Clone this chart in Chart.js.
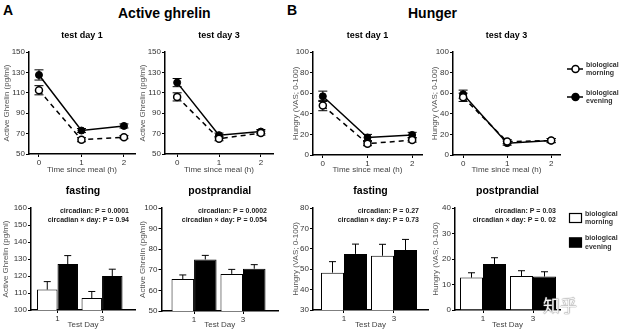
<!DOCTYPE html>
<html>
<head>
<meta charset="utf-8">
<script src="https://cdn.jsdelivr.net/npm/chart.js@4.4.1/dist/chart.umd.min.js"></script>
<style>
  body { margin: 0; width: 620px; height: 332px; background: #fff; position: relative; overflow: hidden;
         font-family: 'Liberation Sans', Arial, sans-serif; }
  canvas { position: absolute; }
  .txt { position: absolute; white-space: nowrap; }
</style>
</head>
<body>

<div class="txt" style="left:3px;top:3px;font:bold 14px/14px 'Liberation Sans',Arial">A</div>
<div class="txt" style="left:118px;top:5.5px;font:bold 14px/14px 'Liberation Sans',Arial">Active ghrelin</div>
<div class="txt" style="left:287px;top:3px;font:bold 14px/14px 'Liberation Sans',Arial">B</div>
<div class="txt" style="left:408px;top:5.5px;font:bold 14px/14px 'Liberation Sans',Arial">Hunger</div>

<script>
'use strict';

Chart.defaults.font.family = "'Liberation Sans', Arial, sans-serif";

const hours = [0, 1, 2];
const testDays = [1, 3];
const seriesNames = ['biological morning', 'biological evening'];

// active ghrelin (pg/ml) after the meal
const ghrelinD1Morning = [112.5, 64, 66.5];
const ghrelinD1MorningErr = [4.5, 2, 1.5];
const ghrelinD1Evening = [127.5, 73, 77.5];
const ghrelinD1EveningErr = [5, 2, 2];
const ghrelinD3Morning = [106, 65, 70.5];
const ghrelinD3MorningErr = [4, 2, 2];
const ghrelinD3Evening = [120, 68.5, 72];
const ghrelinD3EveningErr = [4, 2, 2];

// hunger (VAS 0-100) after the meal
const hungerD1Morning = [48, 11, 14.5];
const hungerD1MorningErr = [5, 2, 2];
const hungerD1Evening = [57, 17, 19.5];
const hungerD1EveningErr = [5, 3, 2.5];
const hungerD3Morning = [56, 13, 14];
const hungerD3MorningErr = [4, 2, 2];
const hungerD3Evening = [59, 11.5, 14];
const hungerD3EveningErr = [4, 2, 2];

// fasting / postprandial bars, per test day
const ghrelinFastMorning = [112, 107];
const ghrelinFastMorningErr = [4.7, 3.9];
const ghrelinFastEvening = [127, 120];
const ghrelinFastEveningErr = [5, 4];
const ghrelinPostMorning = [65.5, 68];
const ghrelinPostMorningErr = [2, 2.2];
const ghrelinPostEvening = [75, 70.5];
const ghrelinPostEveningErr = [2, 2];
const hungerFastMorning = [48.3, 56.6];
const hungerFastMorningErr = [5.4, 5.6];
const hungerFastEvening = [57.5, 59.4];
const hungerFastEveningErr = [4.8, 5.2];
const hungerPostMorning = [12.7, 13.3];
const hungerPostMorningErr = [1.9, 2.1];
const hungerPostEvening = [18, 13.1];
const hungerPostEveningErr = [2.5, 1.9];

// stats text
const notesGhrelinFast = ['circadian: P = 0.0001', 'circadian \u00d7 day: P = 0.94'];
const notesGhrelinPost = ['circadian: P = 0.0002', 'circadian \u00d7 day: P = 0.054'];
const notesHungerFast = ['circadian: P = 0.27', 'circadian \u00d7 day: P = 0.73'];
const notesHungerPost = ['circadian: P = 0.03', 'circadian \u00d7 day: P = 0. 02'];

const pts = (xs, ys) => xs.map((x, i) => ({ x: x, y: ys[i] }));

const errorBars = {
  id: 'errorBars',
  beforeDatasetsDraw(chart) {
    const ctx = chart.ctx;
    const ys = chart.scales.y;
    ctx.save();
    ctx.strokeStyle = '#000';
    ctx.lineWidth = 1;
    chart.data.datasets.forEach((ds, i) => {
      if (!ds.errors) return;
      chart.getDatasetMeta(i).data.forEach((el, j) => {
        const v = ds.data[j].y, e = ds.errors[j];
        const x = el.x, cap = ds.capWidth / 2;
        const top = ys.getPixelForValue(v + e);
        const low = ds.errorBoth ? ys.getPixelForValue(v - e) : ys.getPixelForValue(v);
        ctx.beginPath();
        ctx.moveTo(x, top); ctx.lineTo(x, low);
        ctx.moveTo(x - cap, top); ctx.lineTo(x + cap, top);
        if (ds.errorBoth) { ctx.moveTo(x - cap, low); ctx.lineTo(x + cap, low); }
        ctx.stroke();
      });
    });
    ctx.restore();
  }
};

function noteText(lines, inset) {
  return {
    id: 'noteText',
    afterDraw(chart) {
      if (!lines) return;
      const { ctx, chartArea } = chart;
      ctx.save();
      ctx.font = "bold 7px 'Liberation Sans', Arial, sans-serif";
      ctx.fillStyle = '#222';
      ctx.textAlign = 'right';
      ctx.textBaseline = 'alphabetic';
      lines.forEach((t, i) => ctx.fillText(t, chartArea.right - inset, chartArea.top + 5 + i * 9));
      ctx.restore();
    }
  };
}

// side legend, drawn in page coordinates (ox, oy = canvas offset)
function sideLegend(kind, ox, oy) {
  return {
    id: 'sideLegend',
    afterDraw(chart) {
      if (!kind) return;
      const ctx = chart.ctx;
      ctx.save();
      ctx.translate(-ox, -oy);
      ctx.font = "bold 7px 'Liberation Sans', Arial, sans-serif";
      ctx.textBaseline = 'middle';
      ctx.textAlign = 'left';
      const rows = kind === 'line' ? [69, 97] : [218, 242.5];
      rows.forEach((y, i) => {
        const filled = i === 1;
        ctx.strokeStyle = '#000';
        ctx.fillStyle = filled ? '#000' : '#fff';
        if (kind === 'line') {
          ctx.lineWidth = 1.5;
          ctx.beginPath(); ctx.moveTo(567, y); ctx.lineTo(583, y); ctx.stroke();
          ctx.beginPath(); ctx.arc(575.5, y, 3.5, 0, Math.PI * 2); ctx.fill(); ctx.stroke();
        } else {
          ctx.lineWidth = 1.2;
          ctx.fillRect(569, y - 5, 13, 10);
          ctx.strokeRect(569.5, y - 4.5, 12, 9);
        }
        const words = seriesNames[i].split(' ');
        ctx.fillStyle = '#333';
        const tx = kind === 'line' ? 586 : 585;
        ctx.fillText(words[0], tx, y - 4);
        ctx.fillText(words[1], tx, y + 4.5);
      });
      ctx.restore();
    }
  };
}

function lineSets(m, mErr, e, eErr) {
  return [
    { label: seriesNames[0], data: pts(hours, m), errors: mErr, errorBoth: true, capWidth: 9,
      borderColor: '#000', borderWidth: 1.5, borderDash: [5, 4], tension: 0,
      pointRadius: 3.5, pointBackgroundColor: '#fff', pointBorderColor: '#000', pointBorderWidth: 1.5 },
    { label: seriesNames[1], data: pts(hours, e), errors: eErr, errorBoth: true, capWidth: 9,
      borderColor: '#000', borderWidth: 1.5, tension: 0,
      pointRadius: 3.5, pointBackgroundColor: '#000', pointBorderColor: '#000', pointBorderWidth: 1 }
  ];
}

function barSets(m, mErr, e, eErr) {
  return [
    { label: seriesNames[0], data: pts(testDays, m), errors: mErr, capWidth: 7, backgroundColor: '#fff',
      borderColor: '#000', borderWidth: 1, categoryPercentage: 0.92, barPercentage: 1 },
    { label: seriesNames[1], data: pts(testDays, e), errors: eErr, capWidth: 7, backgroundColor: '#000',
      borderColor: '#000', borderWidth: 1, categoryPercentage: 0.92, barPercentage: 1 }
  ];
}

function panel(p) {
  const lh = p.subSize * 1.2;
  const padRight = p.legend ? 620 - p.area.r : 6;
  const left = p.yTitleX - 6, top = p.subY - 10;
  const right = p.area.r + padRight, bottom = p.xTitleY + 6;
  const yw = p.area.l - left, xh = bottom - p.area.b;
  const cv = document.createElement('canvas');
  cv.width = right - left;
  cv.height = bottom - top;
  cv.style.left = left + 'px';
  cv.style.top = top + 'px';
  document.body.appendChild(cv);

  new Chart(cv, {
    type: p.type,
    data: { datasets: p.datasets },
    options: {
      responsive: false,
      animation: false,
      layout: { padding: { left: 0, top: 0, right: padRight, bottom: 0 } },
      plugins: {
        legend: { display: false },
        tooltip: { enabled: false },
        title: {
          display: true, text: p.subtitle, color: '#000', fullSize: false,
          font: { size: p.subSize, weight: 'bold' },
          padding: { top: 10 - lh / 2, bottom: p.area.t - top - 10 - lh / 2 }
        }
      },
      scales: {
        x: {
          type: 'linear', min: p.xMin, max: p.xMax, bounds: 'data', offset: false,
          border: { color: '#000', width: 1.5 },
          grid: { drawOnChartArea: false, offset: false, color: '#000', tickLength: 3 },
          ticks: { color: '#333', font: { size: 8 }, padding: 1 },
          afterBuildTicks: (s) => { s.ticks = p.xTicks.map(v => ({ value: v })); },
          title: { display: true, text: p.xTitle, color: '#444', font: { size: 8 },
                   padding: { top: 0, bottom: 1.2 } },
          afterFit: (s) => { s.height = xh; }
        },
        y: {
          min: p.yMin, max: p.yMax,
          border: { color: '#000', width: 1.5 },
          grid: { drawOnChartArea: false, color: '#000', tickLength: 3 },
          ticks: { stepSize: p.yStep, color: '#333', font: { size: 8 }, padding: 1 },
          title: { display: true, text: p.yTitle, color: '#555', font: { size: 8 },
                   padding: { top: 1.2, bottom: 0 } },
          afterFit: (s) => { s.width = yw; }
        }
      }
    },
    plugins: [errorBars, noteText(p.notes, p.noteInset), sideLegend(p.legend, left, top)]
  });
}

const lineTitle = 'Time since meal (h)';
const ghrelinTitle = 'Active Ghrelin (pg/ml)';
const hungerTitle = 'Hungry (VAS; 0-100)';

panel({ type: 'line', subtitle: 'test day 1', subSize: 9, subY: 36,
  area: { l: 29, t: 52, r: 135, b: 154 }, yTitleX: 7, xTitleY: 170,
  xMin: -0.235, xMax: 2.26, xTicks: hours, xTitle: lineTitle,
  yMin: 50, yMax: 150, yStep: 20, yTitle: ghrelinTitle,
  datasets: lineSets(ghrelinD1Morning, ghrelinD1MorningErr, ghrelinD1Evening, ghrelinD1EveningErr) });

panel({ type: 'line', subtitle: 'test day 3', subSize: 9, subY: 36,
  area: { l: 165, t: 52, r: 273, b: 154 }, yTitleX: 143, xTitleY: 170,
  xMin: -0.29, xMax: 2.29, xTicks: hours, xTitle: lineTitle,
  yMin: 50, yMax: 150, yStep: 20, yTitle: ghrelinTitle,
  datasets: lineSets(ghrelinD3Morning, ghrelinD3MorningErr, ghrelinD3Evening, ghrelinD3EveningErr) });

panel({ type: 'line', subtitle: 'test day 1', subSize: 9, subY: 36,
  area: { l: 313, t: 52, r: 422, b: 155 }, yTitleX: 296, xTitleY: 170,
  xMin: -0.22, xMax: 2.22, xTicks: hours, xTitle: lineTitle,
  yMin: 0, yMax: 100, yStep: 20, yTitle: hungerTitle,
  datasets: lineSets(hungerD1Morning, hungerD1MorningErr, hungerD1Evening, hungerD1EveningErr) });

panel({ type: 'line', subtitle: 'test day 3', subSize: 9, subY: 36,
  area: { l: 453, t: 52, r: 560, b: 155 }, yTitleX: 435, xTitleY: 170,
  xMin: -0.23, xMax: 2.2, xTicks: hours, xTitle: lineTitle,
  yMin: 0, yMax: 100, yStep: 20, yTitle: hungerTitle, legend: 'line',
  datasets: lineSets(hungerD3Morning, hungerD3MorningErr, hungerD3Evening, hungerD3EveningErr) });

panel({ type: 'bar', subtitle: 'fasting', subSize: 10.5, subY: 191,
  area: { l: 31, t: 208, r: 135, b: 310 }, yTitleX: 6, xTitleY: 325,
  xMin: -0.19, xMax: 4.48, xTicks: testDays, xTitle: 'Test Day',
  yMin: 100, yMax: 160, yStep: 10, yTitle: ghrelinTitle,
  notes: notesGhrelinFast, noteInset: 6,
  datasets: barSets(ghrelinFastMorning, ghrelinFastMorningErr, ghrelinFastEvening, ghrelinFastEveningErr) });

panel({ type: 'bar', subtitle: 'postprandial', subSize: 10.5, subY: 191,
  area: { l: 161.5, t: 208, r: 278, b: 311 }, yTitleX: 143, xTitleY: 325,
  xMin: -0.33, xMax: 4.43, xTicks: testDays, xTitle: 'Test Day',
  yMin: 50, yMax: 100, yStep: 10, yTitle: ghrelinTitle,
  notes: notesGhrelinPost, noteInset: 11,
  datasets: barSets(ghrelinPostMorning, ghrelinPostMorningErr, ghrelinPostEvening, ghrelinPostEveningErr) });

panel({ type: 'bar', subtitle: 'fasting', subSize: 10.5, subY: 191,
  area: { l: 313, t: 208, r: 428, b: 310 }, yTitleX: 296, xTitleY: 325,
  xMin: -0.24, xMax: 4.36, xTicks: testDays, xTitle: 'Test Day',
  yMin: 30, yMax: 80, yStep: 10, yTitle: hungerTitle,
  notes: notesHungerFast, noteInset: 9,
  datasets: barSets(hungerFastMorning, hungerFastMorningErr, hungerFastEvening, hungerFastEveningErr) });

panel({ type: 'bar', subtitle: 'postprandial', subSize: 10.5, subY: 191,
  area: { l: 455, t: 208, r: 560, b: 310 }, yTitleX: 436, xTitleY: 325,
  xMin: -0.12, xMax: 4.08, xTicks: testDays, xTitle: 'Test Day',
  yMin: 0, yMax: 40, yStep: 10, yTitle: hungerTitle, legend: 'bar',
  notes: notesHungerPost, noteInset: 4,
  datasets: barSets(hungerPostMorning, hungerPostMorningErr, hungerPostEvening, hungerPostEveningErr) });
</script>

<div class="txt" style="left:543px;top:295px;font:17px/20px 'Noto Sans CJK SC';color:rgba(255,255,255,0.92);text-shadow:0 0 1px #777,0 0 1px #777">知乎</div>
</body>
</html>
